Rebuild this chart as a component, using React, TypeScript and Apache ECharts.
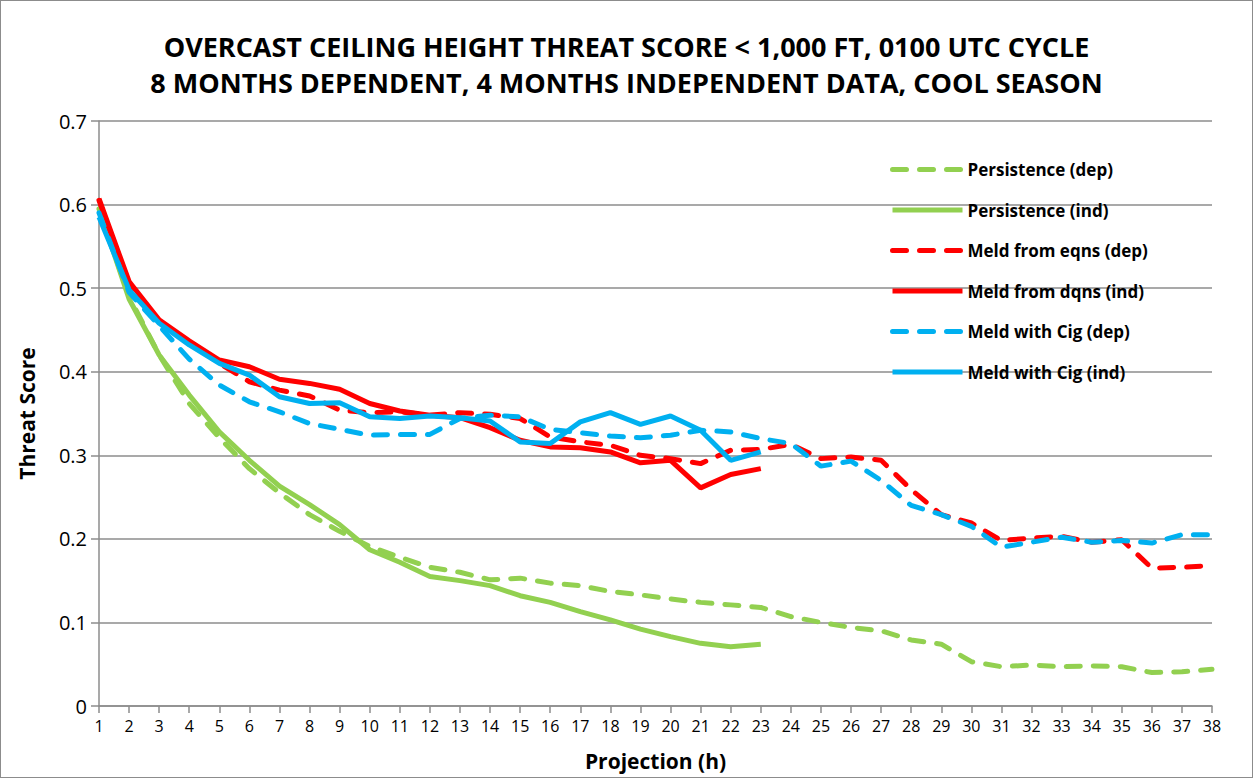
import React, { useEffect, useRef } from "react";
import * as echarts from "echarts";

const hours = Array.from({ length: 38 }, (_, i) => String(i + 1));

const persDep = [0.595, 0.49, 0.42, 0.362, 0.321, 0.284, 0.255, 0.229, 0.209, 0.191,
  0.178, 0.166, 0.160, 0.151, 0.153, 0.147, 0.144, 0.137, 0.133, 0.128,
  0.124, 0.121, 0.118, 0.107, 0.100, 0.094, 0.090, 0.079, 0.074, 0.053,
  0.047, 0.049, 0.047, 0.048, 0.047, 0.040, 0.041, 0.044];
const persInd = [0.595, 0.487, 0.42, 0.372, 0.328, 0.294, 0.263, 0.241, 0.217, 0.187,
  0.172, 0.155, 0.150, 0.144, 0.132, 0.124, 0.113, 0.103, 0.092, 0.083,
  0.075, 0.071, 0.074];
const meldEqDep = [0.605, 0.505, 0.46, 0.435, 0.41, 0.388, 0.378, 0.371, 0.354, 0.351,
  0.352, 0.348, 0.351, 0.349, 0.344, 0.322, 0.316, 0.312, 0.300, 0.296,
  0.290, 0.306, 0.307, 0.313, 0.296, 0.298, 0.294, 0.259, 0.229, 0.219,
  0.198, 0.201, 0.203, 0.196, 0.199, 0.165, 0.166, 0.168];
const meldDqInd = [0.607, 0.508, 0.462, 0.437, 0.414, 0.406, 0.391, 0.386, 0.379, 0.362,
  0.353, 0.348, 0.345, 0.333, 0.318, 0.310, 0.309, 0.304, 0.291, 0.294,
  0.261, 0.277, 0.284];
const cigDep = [0.59, 0.495, 0.455, 0.415, 0.384, 0.364, 0.352, 0.338, 0.331, 0.324,
  0.325, 0.325, 0.344, 0.348, 0.346, 0.331, 0.327, 0.323, 0.321, 0.324,
  0.330, 0.328, 0.320, 0.314, 0.287, 0.293, 0.270, 0.240, 0.229, 0.215,
  0.190, 0.196, 0.202, 0.196, 0.198, 0.195, 0.205, 0.205];
const cigInd = [0.585, 0.498, 0.458, 0.432, 0.410, 0.396, 0.370, 0.362, 0.363, 0.346,
  0.344, 0.347, 0.345, 0.341, 0.316, 0.314, 0.340, 0.351, 0.337, 0.347,
  0.330, 0.294, 0.304];

const seriesNames = [
  "Persistence (dep)",
  "Persistence (ind)",
  "Meld from eqns (dep)",
  "Meld from dqns (ind)",
  "Meld with Cig (dep)",
  "Meld with Cig (ind)",
];
const seriesData = [persDep, persInd, meldEqDep, meldDqInd, cigDep, cigInd];
const seriesColors = ["#92D050", "#92D050", "#FF0000", "#FF0000", "#00B0F0", "#00B0F0"];
const seriesDashed = [true, false, true, false, true, false];

const FONT = "'Open Sans', 'Liberation Sans', sans-serif";

export default function App() {
  const ref = useRef<HTMLDivElement>(null);
  useEffect(() => {
    if (!ref.current) return;
    const chart = echarts.init(ref.current, undefined, { renderer: "svg" });
    const gridColor = "#8c8c8c";
    chart.setOption({
      animation: false,
      backgroundColor: "#ffffff",
      title: {
        text: "OVERCAST CEILING HEIGHT THREAT SCORE < 1,000 FT, 0100 UTC CYCLE\n8 MONTHS DEPENDENT, 4 MONTHS INDEPENDENT DATA, COOL SEASON",
        left: "center",
        top: 22,
        textStyle: {
          fontFamily: FONT,
          fontWeight: "bold",
          fontSize: 27,
          lineHeight: 36,
          color: "#000",
        },
      },
      legend: {
        orient: "vertical",
        left: 884,
        top: 155,
        itemWidth: 70,
        itemHeight: 14,
        itemGap: 23.5,
        data: seriesNames,
        itemStyle: { opacity: 0 },
        lineStyle: { width: 5 },
        textStyle: { fontFamily: FONT, fontWeight: "bold", fontSize: 17, color: "#000" },
      },
      grid: { left: 98, right: 40, top: 120, bottom: 71, containLabel: false },
      xAxis: {
        type: "category",
        data: hours,
        boundaryGap: false,
        name: "Projection (h)",
        nameLocation: "middle",
        nameGap: 44,
        nameTextStyle: { fontFamily: FONT, fontWeight: "bold", fontSize: 21, color: "#000" },
        axisLine: { lineStyle: { color: gridColor, width: 1.5 } },
        axisTick: { show: true, length: 7, lineStyle: { color: gridColor, width: 1.5 } },
        axisLabel: { fontFamily: FONT, fontSize: 16, color: "#000", margin: 12 },
        splitLine: { show: false },
      },
      yAxis: {
        type: "value",
        min: 0,
        max: 0.7,
        interval: 0.1,
        name: "Threat Score",
        nameLocation: "middle",
        nameGap: 62,
        nameTextStyle: { fontFamily: FONT, fontWeight: "bold", fontSize: 21, color: "#000" },
        axisLine: { show: true, lineStyle: { color: gridColor, width: 1.5 } },
        axisTick: { show: true, length: 8, lineStyle: { color: gridColor, width: 1.5 } },
        axisLabel: { fontFamily: FONT, fontSize: 20, color: "#000", margin: 12 },
        splitLine: { lineStyle: { color: gridColor, width: 1.5 } },
      },
      series: seriesNames.map((name, i) => ({
        name,
        type: "line",
        data: seriesData[i],
        symbol: "none",
        showSymbol: false,
        color: seriesColors[i],
        lineStyle: {
          color: seriesColors[i],
          width: 5,
          type: seriesDashed[i] ? [14, 13] : "solid",
          cap: seriesDashed[i] ? "round" : "butt",
        },
      })),
    });
    return () => chart.dispose();
  }, []);
  return (
    <div
      style={{
        position: "absolute",
        left: 0,
        top: 0,
        width: 1253,
        height: 778,
        boxSizing: "border-box",
        border: "1px solid #8c8c8c",
        background: "#fff",
      }}
    >
      <div ref={ref} style={{ width: 1251, height: 776 }} />
    </div>
  );
}
